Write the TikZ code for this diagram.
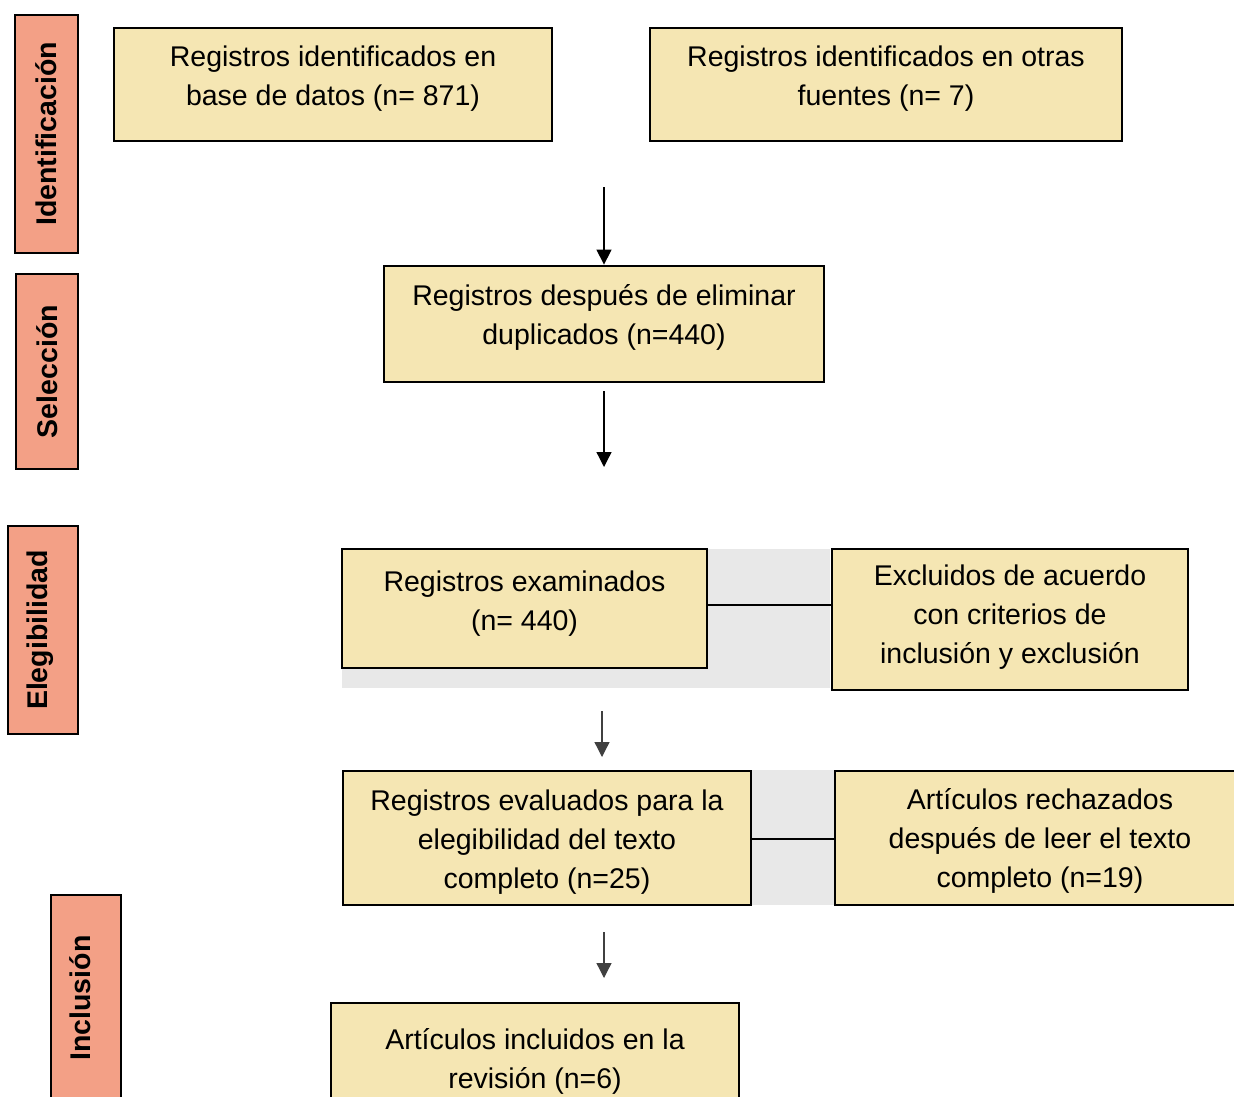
\documentclass[tikz,border=0pt]{standalone}
\usepackage{fontspec}
\setmainfont{Liberation Sans}
\usetikzlibrary{arrows.meta}
\definecolor{boxfill}{RGB}{245,230,179}
\definecolor{stagefill}{RGB}{243,160,134}
\definecolor{shadefill}{RGB}{232,232,232}

\tikzset{
    stepbox/.style={draw, line width=2.8pt, fill=boxfill, inner sep=0pt},
    boxtext/.style={align=center, inner sep=0pt, font=\fontsize{28.5}{39}\selectfont},
    stage/.style={draw, line width=2pt, fill=stagefill, inner sep=0pt},
    stagetext/.style={rotate=90, inner sep=0pt, font=\fontsize{28.5}{34}\selectfont\bfseries},
    arr/.style={line width=1.3pt, -{Triangle[width=15pt,length=15pt]}}
}

\begin{document}
\begin{tikzpicture}[x=1pt, y=-1pt]
        \useasboundingbox (0,0) rectangle (1234,1097);
        % Stage labels on the left
        \foreach \name/\x/\y/\w/\h/\dx/\dy/\txt in {ident/46.5/134/63/238/0/0/Identificación,
            selec/47/371.5/62/195/0/0/Selección, eleg/43/630/70/208/-3/0/Elegibilidad,
            incl/86/1005/70/220/-6/-7/Inclusión} {
            \node[stage, minimum width=\w pt, minimum height=\h pt] (\name) at (\x,\y) {};
            \node[stagetext] at ([shift={(\dx,\dy)}]\name.center) {\txt};
        }
        % Grey bands behind the exclusion links
        \fill[shadefill] (342,549) rectangle (830,688);
        \fill[shadefill] (751,770) rectangle (835,905);
        % Boxes
        \node[stepbox, minimum width=438pt, minimum height=113pt] (dbase) at (333,84.5) {};
        \node[boxtext] at ([yshift=6pt]dbase.center) {Registros identificados en\\base de datos (n= 871)};
        \node[stepbox, minimum width=472pt, minimum height=113pt] (other) at (886,84.5) {};
        \node[boxtext] at ([yshift=5.5pt]other.center) {Registros identificados en otras\\fuentes (n= 7)};
        \node[stepbox, minimum width=440pt, minimum height=116pt] (dedup) at (604,324) {};
        \node[boxtext] at ([yshift=6.5pt]dedup.center) {Registros después de eliminar\\duplicados (n=440)};
        \node[stepbox, minimum width=365pt, minimum height=119pt] (screen) at (524.5,608.5) {};
        \node[boxtext] at ([yshift=5pt]screen.center) {Registros examinados\\(n= 440)};
        \node[stepbox, minimum width=356pt, minimum height=141pt] (excl) at (1010,619.5) {};
        \node[boxtext] at ([yshift=2.5pt]excl.center) {Excluidos de acuerdo\\con criterios de\\inclusión y exclusión};
        \node[stepbox, minimum width=408pt, minimum height=134pt] (full) at (547,838) {};
        \node[boxtext] at ([yshift=-4.5pt]full.center) {Registros evaluados para la\\elegibilidad del texto\\completo (n=25)};
        \node[stepbox, minimum width=410pt, minimum height=134pt] (rej) at (1040,838) {};
        \node[boxtext] at ([yshift=-3pt]rej.center) {Artículos rechazados\\después de leer el texto\\completo (n=19)};
        \node[stepbox, minimum width=408pt, minimum height=114pt] (incl) at (535,1060) {};
        \node[boxtext] at ([yshift=-1.5pt]incl.center) {Artículos incluidos en la\\revisión (n=6)};
        % Links to the excluded boxes
        \draw[line width=1.2pt] (screen.east |- 0,605) -- (excl.west |- 0,605);
        \draw[line width=1.2pt] (full.east |- 0,839) -- (rej.west |- 0,839);
        % Arrows
        \coordinate (a1) at (604,187);
        \coordinate (a2) at (604,391);
        \coordinate (a2e) at (604,467);
        \coordinate (a3) at (602,711);
        \coordinate (a3e) at (602,757);
        \coordinate (a4) at (604,932);
        \coordinate (a4e) at (604,978);
        \draw[arr] (a1) -- (dedup.north);
        \draw[arr] (a2) -- (a2e);
        \draw[arr, black!75] (a3) -- (a3e);
        \draw[arr, black!75] (a4) -- (a4e);
    \end{tikzpicture}
\end{document}
